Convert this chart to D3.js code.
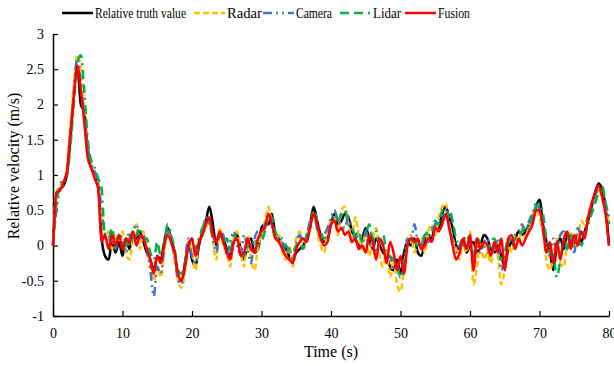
<!DOCTYPE html>
<html>
<head>
<meta charset="utf-8">
<script src="https://cdn.jsdelivr.net/npm/d3@7"></script>
<style>
  body { margin: 0; background: #fff; }
  svg text { font-family: 'Liberation Serif', 'Times New Roman', Times, serif; }
</style>
</head>
<body>
<div id="chart"></div>
<script>
// time axis, 0.5 s step from 0 to 80 s
const timeStep = 0.5;

const truthValues = [0,0.72,0.8,0.85,1.0,1.5,2.15,2.55,2.0,1.9,1.3,1.1,1.0,0.85,0.1,-0.15,-0.2,0.05,-0.1,0.05,
  -0.15,0.1,-0.05,0.15,0.1,0.2,0.05,-0.1,-0.2,-0.35,-0.15,-0.2,0.05,0.25,0.1,-0.1,-0.45,-0.5,-0.25,0.05,
  -0.2,-0.3,0.0,0.2,0.35,0.55,0.3,0.0,0.15,0.1,-0.05,-0.15,0.05,0.15,-0.05,-0.2,0.05,0.1,-0.1,-0.05,
  0.25,0.3,0.3,0.45,0.15,0.1,0.0,-0.05,-0.15,-0.2,-0.1,-0.05,0.0,0.1,0.3,0.55,0.35,0.15,0.05,0.1,
  0.3,0.45,0.3,0.35,0.45,0.4,0.2,0.1,0.0,0.1,0.25,0.1,-0.05,0.1,0.0,-0.1,-0.15,-0.3,-0.35,-0.2,
  -0.4,-0.1,0.05,0.0,0.1,-0.1,-0.15,0.05,0.15,0.1,0.3,0.25,0.45,0.55,0.4,0.25,0.0,-0.05,0.05,-0.1,
  0.0,0.05,-0.1,0.0,0.15,0.1,-0.05,-0.1,0.0,-0.15,-0.3,-0.05,0.05,0.1,0.2,0.15,0.2,0.3,0.35,0.55,
  0.65,0.3,0.05,-0.1,-0.35,0.0,0.1,-0.05,0.15,0.05,0.0,0.15,0.05,0.2,0.35,0.55,0.75,0.88,0.8,0.55,0.0];

const radarValues = [0.1,0.75,0.85,0.9,1.1,1.7,2.3,2.7,2.5,1.9,1.25,1.15,1.0,0.85,0.4,0.1,0.2,-0.05,0.15,0.05,
  0.2,-0.1,-0.2,0.1,0.3,-0.05,0.2,0.0,-0.3,-0.5,-0.3,-0.45,-0.1,0.2,0.05,-0.2,-0.5,-0.6,-0.35,0.05,
  -0.1,-0.35,0.1,0.15,0.25,0.35,0.05,-0.2,0.25,0.0,-0.1,-0.3,0.1,0.2,-0.1,-0.3,0.15,-0.2,-0.35,0.0,
  0.15,0.35,0.55,0.3,0.1,0.15,-0.1,-0.2,0.0,-0.3,0.1,0.2,-0.05,0.1,0.3,0.45,0.2,0.0,-0.1,0.2,
  0.35,0.4,0.15,0.5,0.55,0.3,0.1,0.4,0.15,-0.05,0.2,-0.15,0.1,0.25,-0.15,-0.3,-0.1,-0.45,-0.2,-0.55,
  -0.65,-0.35,0.05,0.15,-0.1,0.05,0.1,-0.1,0.2,0.3,0.15,0.4,0.55,0.6,0.3,0.1,-0.05,-0.2,0.05,-0.1,
  0.2,-0.55,-0.3,0.05,-0.2,-0.1,-0.25,0.0,-0.15,-0.55,-0.35,0.0,-0.1,0.15,0.05,0.25,0.1,0.3,0.45,0.5,
  0.4,0.2,-0.2,-0.35,-0.15,0.1,-0.25,-0.3,0.05,0.2,-0.05,0.1,0.35,0.3,0.45,0.6,0.7,0.8,0.65,0.5,0.35];

const cameraValues = [0.05,0.5,0.8,0.85,1.05,1.5,2.2,2.65,2.3,1.8,1.4,1.15,1.05,0.9,0.5,0.15,0.05,0.2,-0.05,0.15,
  0.05,-0.1,0.1,0.2,0.3,0.1,0.15,-0.05,-0.35,-0.72,-0.3,-0.4,-0.05,0.25,0.05,-0.15,-0.5,-0.55,-0.2,0.1,
  -0.15,-0.25,0.05,0.2,0.4,0.3,0.1,-0.1,0.2,0.15,-0.15,0.05,0.2,0.0,-0.15,0.15,-0.05,-0.25,0.1,0.2,
  0.1,0.3,0.45,0.3,0.15,0.1,0.05,-0.1,-0.05,-0.2,0.05,0.15,0.05,0.15,0.35,0.45,0.25,0.1,0.15,0.25,
  0.4,0.5,0.35,0.3,0.25,0.4,0.25,0.1,0.15,0.05,0.2,0.0,0.1,-0.1,0.05,0.0,-0.2,-0.15,-0.35,-0.25,
  -0.45,-0.2,0.1,0.05,0.3,0.05,0.0,0.1,0.05,0.2,0.3,0.35,0.4,0.5,0.35,0.05,-0.1,0.0,0.1,-0.05,
  0.05,-0.2,0.0,-0.1,0.05,0.1,-0.1,-0.05,0.1,-0.35,-0.2,0.05,0.1,0.15,0.2,0.3,0.15,0.35,0.45,0.6,
  0.5,0.2,0.0,-0.15,0.1,-0.1,0.15,0.2,-0.05,0.1,-0.1,0.25,0.15,0.2,0.4,0.5,0.7,0.8,0.75,0.6,0.4];

const lidarValues = [0.0,0.6,0.85,0.95,1.0,1.4,2.0,2.6,2.7,2.2,1.5,1.2,1.1,0.95,0.8,0.1,0.1,0.25,0.0,0.15,
  0.1,0.0,0.2,0.05,0.15,0.25,0.1,0.1,-0.1,-0.2,0.05,-0.15,0.05,0.3,0.15,-0.05,-0.35,-0.4,-0.25,-0.05,
  0.1,-0.05,0.1,0.25,0.3,0.35,0.15,0.1,0.15,0.05,0.1,-0.1,0.15,0.05,-0.1,-0.15,0.0,-0.05,0.1,0.0,
  0.05,0.2,0.35,0.4,0.2,0.1,0.1,0.0,-0.05,-0.1,0.0,0.1,-0.05,0.15,0.2,0.5,0.35,0.2,0.1,0.15,
  0.3,0.4,0.35,0.45,0.5,0.3,0.25,0.15,0.2,0.05,0.15,0.3,0.1,0.2,0.05,0.15,-0.1,-0.15,-0.2,-0.3,
  -0.45,-0.25,0.0,0.1,0.05,0.0,0.05,0.15,0.2,0.25,0.35,0.3,0.5,0.45,0.5,0.35,0.1,0.0,0.05,0.15,
  0.05,-0.15,0.1,0.05,0.0,-0.1,0.05,0.1,-0.05,-0.2,-0.1,0.1,0.0,0.1,0.15,0.2,0.3,0.25,0.4,0.55,
  0.6,0.45,0.1,-0.1,-0.15,-0.45,-0.2,0.05,-0.05,0.15,0.05,0.1,0.0,0.15,0.3,0.45,0.6,0.75,0.85,0.6,0.3];

const fusionValues = [0,0.75,0.78,0.9,1.05,1.6,2.1,2.55,2.2,1.75,1.25,1.1,0.95,0.8,0.05,0.15,-0.05,0.15,0.0,0.15,
  -0.05,0.1,0.05,0.2,0.0,0.15,0.1,-0.05,-0.2,-0.4,-0.15,-0.25,0.0,0.15,0.05,-0.1,-0.4,-0.5,-0.3,0.0,
  0.1,-0.15,0.05,0.15,0.3,0.4,0.15,0.05,0.2,0.05,-0.1,-0.2,0.05,0.1,-0.15,-0.1,0.1,-0.05,-0.1,0.1,
  0.2,0.25,0.45,0.3,0.1,0.05,-0.05,-0.15,-0.2,-0.25,-0.05,0.05,0.1,0.05,0.25,0.45,0.3,0.1,0.0,0.05,
  0.3,0.35,0.2,0.25,0.15,0.2,0.05,0.1,-0.05,0.0,-0.1,0.15,0.05,-0.2,0.1,0.0,-0.25,0.05,-0.1,-0.35,
  -0.15,-0.4,0.0,0.1,0.05,0.1,-0.05,0.0,0.1,0.05,0.25,0.2,0.3,0.45,0.25,0.0,-0.2,-0.1,0.1,-0.05,
  0.15,-0.35,0.1,-0.05,0.05,0.0,-0.15,0.05,-0.1,0.1,-0.35,0.1,0.15,-0.05,0.1,0.0,0.1,0.2,0.3,0.5,
  0.5,0.25,-0.1,0.05,-0.25,0.05,-0.2,0.1,0.2,-0.05,0.15,0.0,0.2,0.1,0.4,0.6,0.75,0.85,0.7,0.45,0.0];

const seriesNames = ['Relative truth value', 'Radar', 'Camera', 'Lidar', 'Fusion'];
const seriesValues = [truthValues, radarValues, cameraValues, lidarValues, fusionValues];
const seriesColors = ['#000000', '#FFC000', '#4472C4', '#00B050', '#FF0000'];
const seriesDashes = [null, '6,3', '9,4,2,4,2,4', '9,5,9,5,2,5', null];

const xTicks = [0, 10, 20, 30, 40, 50, 60, 70, 80];
const yTicks = [-1, -0.5, 0, 0.5, 1, 1.5, 2, 2.5, 3];

const width = 614, height = 366;
const margin = { top: 34, right: 5, bottom: 50, left: 53 };
const serif = "'Liberation Serif', 'Times New Roman', Times, serif";

const svg = d3.select('#chart').append('svg')
  .attr('width', width)
  .attr('height', height);

const x = d3.scaleLinear().domain([0, 80]).range([margin.left, width - margin.right]);
const y = d3.scaleLinear().domain([-1, 3]).range([height - margin.bottom, margin.top]);

// axes (ticks point inward)
const xAxis = svg.append('g')
  .attr('transform', `translate(0,${y(-1)})`)
  .call(d3.axisBottom(x).tickValues(xTicks).tickSize(-5).tickPadding(12).tickSizeOuter(0));
const yAxis = svg.append('g')
  .attr('transform', `translate(${x(0)},0)`)
  .call(d3.axisLeft(y).tickValues(yTicks).tickSize(-5).tickPadding(9).tickSizeOuter(0)
    .tickFormat(d => String(d)));

[xAxis, yAxis].forEach(a => {
  a.attr('font-family', serif);
  a.select('.domain').attr('stroke', '#000').attr('stroke-width', 1.5);
  a.selectAll('.tick line').attr('stroke', '#000').attr('stroke-width', 1.2);
  a.selectAll('.tick text')
    .attr('font-family', serif)
    .attr('font-size', 14)
    .attr('fill', '#000');
});

// lines
const line = d3.line()
  .x((d, i) => x(i * timeStep))
  .y(d => y(d))
  .curve(d3.curveMonotoneX);

seriesValues.forEach((vals, i) => {
  svg.append('path')
    .datum(vals)
    .attr('d', line)
    .attr('fill', 'none')
    .attr('stroke', seriesColors[i])
    .attr('stroke-width', 2.5)
    .attr('stroke-dasharray', seriesDashes[i])
    .attr('stroke-linejoin', 'round');
});

// axis titles
svg.append('text')
  .attr('x', x(40))
  .attr('y', 357)
  .attr('text-anchor', 'middle')
  .attr('font-family', serif)
  .attr('font-size', 16)
  .text('Time (s)');

svg.append('text')
  .attr('transform', `translate(19,166) rotate(-90)`)
  .attr('text-anchor', 'middle')
  .attr('font-family', serif)
  .attr('font-size', 16)
  .text('Relative velocity (m/s)');

// legend (text is horizontally condensed in the original)
const legendX = [62, 194, 263, 340, 405];
const legendTextW = [91, 35, 36, 28, 32];
const legend = svg.append('g').attr('transform', 'translate(0,13)');
seriesNames.forEach((name, i) => {
  legend.append('line')
    .attr('x1', legendX[i]).attr('x2', legendX[i] + 31)
    .attr('y1', 0).attr('y2', 0)
    .attr('stroke', seriesColors[i])
    .attr('stroke-width', 2.5)
    .attr('stroke-dasharray', seriesDashes[i]);
  legend.append('text')
    .attr('x', legendX[i] + 33)
    .attr('y', 5)
    .attr('font-family', serif)
    .attr('font-size', 15)
    .attr('textLength', legendTextW[i])
    .attr('lengthAdjust', 'spacingAndGlyphs')
    .text(name);
});
</script>
</body>
</html>
